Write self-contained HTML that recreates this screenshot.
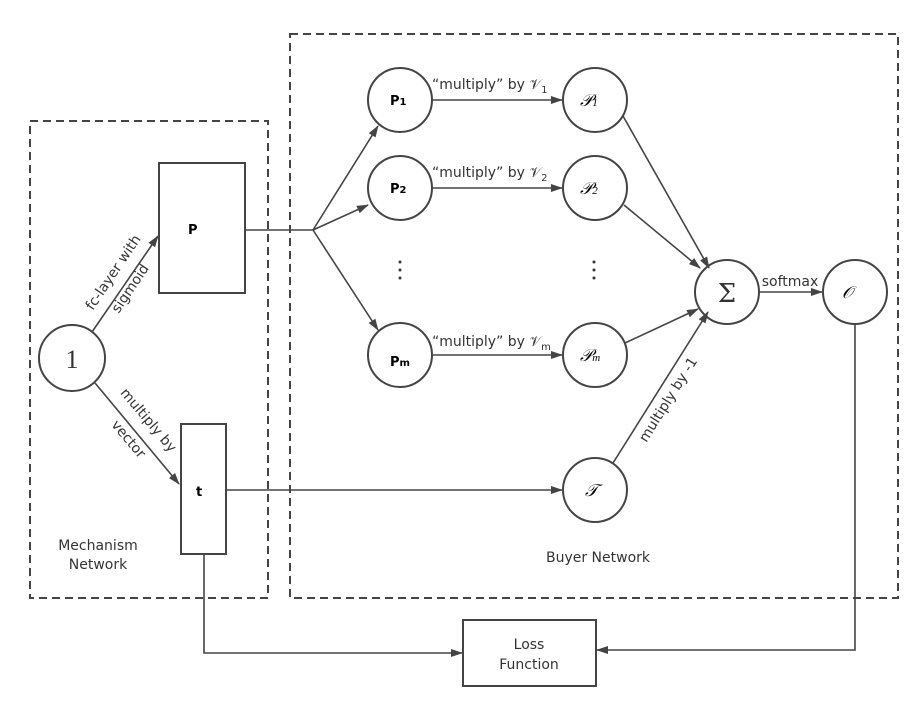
<!DOCTYPE html>
<html><head><meta charset="utf-8"><style>
html,body{margin:0;padding:0;background:#fff;}
svg{display:block;}
text{font-family:"DejaVu Sans","Liberation Sans",sans-serif;fill:#333;}
</style></head><body>
<svg width="923" height="711" viewBox="0 0 923 711" xmlns="http://www.w3.org/2000/svg">
<defs>
<marker id="a" markerWidth="12" markerHeight="8" refX="11" refY="4" orient="auto" markerUnits="userSpaceOnUse">
<path d="M0,0 L12,4 L0,8 Z" fill="#444"/></marker>
</defs>
<g fill="none" stroke="#444" stroke-width="2" stroke-dasharray="8,5">
<rect x="30" y="121" width="238" height="477"/>
<rect x="290" y="34" width="608" height="564"/>
</g>
<g fill="none" stroke="#444" stroke-width="2">
<circle cx="72" cy="358" r="33"/>
<rect x="159" y="163" width="86" height="130"/>
<rect x="181" y="424" width="45" height="130"/>
<circle cx="400" cy="100" r="32"/>
<circle cx="400" cy="188" r="32"/>
<circle cx="400" cy="355" r="32"/>
<circle cx="595" cy="100" r="32"/>
<circle cx="595" cy="188" r="32"/>
<circle cx="595" cy="355" r="32"/>
<circle cx="595" cy="490" r="32"/>
<circle cx="727" cy="292" r="32"/>
<circle cx="855" cy="292" r="32"/>
<rect x="463" y="620" width="133" height="66"/>
</g>
<g fill="none" stroke="#444" stroke-width="1.6" marker-end="url(#a)">
<line x1="92" y1="332" x2="158" y2="236"/>
<line x1="95" y1="383" x2="179" y2="484"/>
<line x1="313" y1="230" x2="378" y2="126"/>
<line x1="313" y1="230" x2="368" y2="205"/>
<line x1="313" y1="230" x2="378" y2="330"/>
<line x1="432" y1="100" x2="562" y2="100"/>
<line x1="432" y1="188" x2="562" y2="188"/>
<line x1="432" y1="355" x2="562" y2="355"/>
<line x1="226" y1="490" x2="562" y2="490"/>
<line x1="623" y1="116" x2="709" y2="268"/>
<line x1="624" y1="205" x2="700" y2="268"/>
<line x1="625" y1="343" x2="698" y2="309"/>
<line x1="613" y1="463" x2="708" y2="312"/>
<line x1="759" y1="292" x2="822" y2="292"/>
<polyline points="204,554 204,653 462,653"/>
<polyline points="855,324 855,650 597,650"/>
</g>
<line x1="245" y1="230" x2="313" y2="230" stroke="#444" stroke-width="1.6"/>
<text x="72" y="368" font-size="26" text-anchor="middle" style="font-family:'Liberation Serif',serif">1</text>
<g font-weight="bold" font-size="13">
<text x="188" y="234" style="fill:#000;font-weight:bold">P</text>
<text x="196" y="496" style="fill:#000;font-weight:bold">t</text>
<text x="390" y="105" style="fill:#000;font-weight:bold">P<tspan font-size="10">1</tspan></text>
<text x="390" y="193" style="fill:#000;font-weight:bold">P<tspan font-size="10">2</tspan></text>
<text x="390" y="366" style="fill:#000;font-weight:bold">P<tspan font-size="10">m</tspan></text>
</g>
<g font-style="italic" font-size="17">
<text x="580" y="106" style="font-family:'Liberation Serif',serif;fill:#000">𝒫<tspan font-size="11">1</tspan></text>
<text x="580" y="194" style="font-family:'Liberation Serif',serif;fill:#000">𝒫<tspan font-size="11">2</tspan></text>
<text x="580" y="361" style="font-family:'Liberation Serif',serif;fill:#000">𝒫<tspan font-size="11">m</tspan></text>
<text x="585" y="496" style="font-family:'Liberation Serif',serif;fill:#000">𝒯</text>
<text x="842" y="298" style="font-family:'Liberation Serif',serif;fill:#000">𝒪</text>
</g>
<text x="727" y="302" font-size="26" text-anchor="middle" style="font-family:'DejaVu Serif',serif">Σ</text>
<g font-size="14">
<text x="432" y="89">“multiply” by 𝒱<tspan font-size="10" dy="4">1</tspan></text>
<text x="432" y="177">“multiply” by 𝒱<tspan font-size="10" dy="4">2</tspan></text>
<text x="432" y="346">“multiply” by 𝒱<tspan font-size="10" dy="4">m</tspan></text>
<text x="790" y="286" text-anchor="middle">softmax</text>
<text x="529" y="649" text-anchor="middle">Loss</text>
<text x="529" y="669" text-anchor="middle">Function</text>
<text x="98" y="550" text-anchor="middle">Mechanism</text>
<text x="98" y="569" text-anchor="middle">Network</text>
<text x="598" y="562" text-anchor="middle">Buyer Network</text>
<text transform="translate(117,275) rotate(-56)" text-anchor="middle">fc-layer with</text>
<text transform="translate(134,291) rotate(-56)" text-anchor="middle">sigmoid</text>
<text transform="translate(145,423) rotate(50)" text-anchor="middle">multiply by</text>
<text transform="translate(125,442) rotate(50)" text-anchor="middle">vector</text>
<text transform="translate(672,402) rotate(-58)" text-anchor="middle">multiply by -1</text>
</g>
<g fill="#333">
<circle cx="400" cy="262" r="1.5"/><circle cx="400" cy="270" r="1.5"/><circle cx="400" cy="278" r="1.5"/>
<circle cx="594" cy="262" r="1.5"/><circle cx="594" cy="270" r="1.5"/><circle cx="594" cy="278" r="1.5"/>
</g>
</svg>
</body></html>
